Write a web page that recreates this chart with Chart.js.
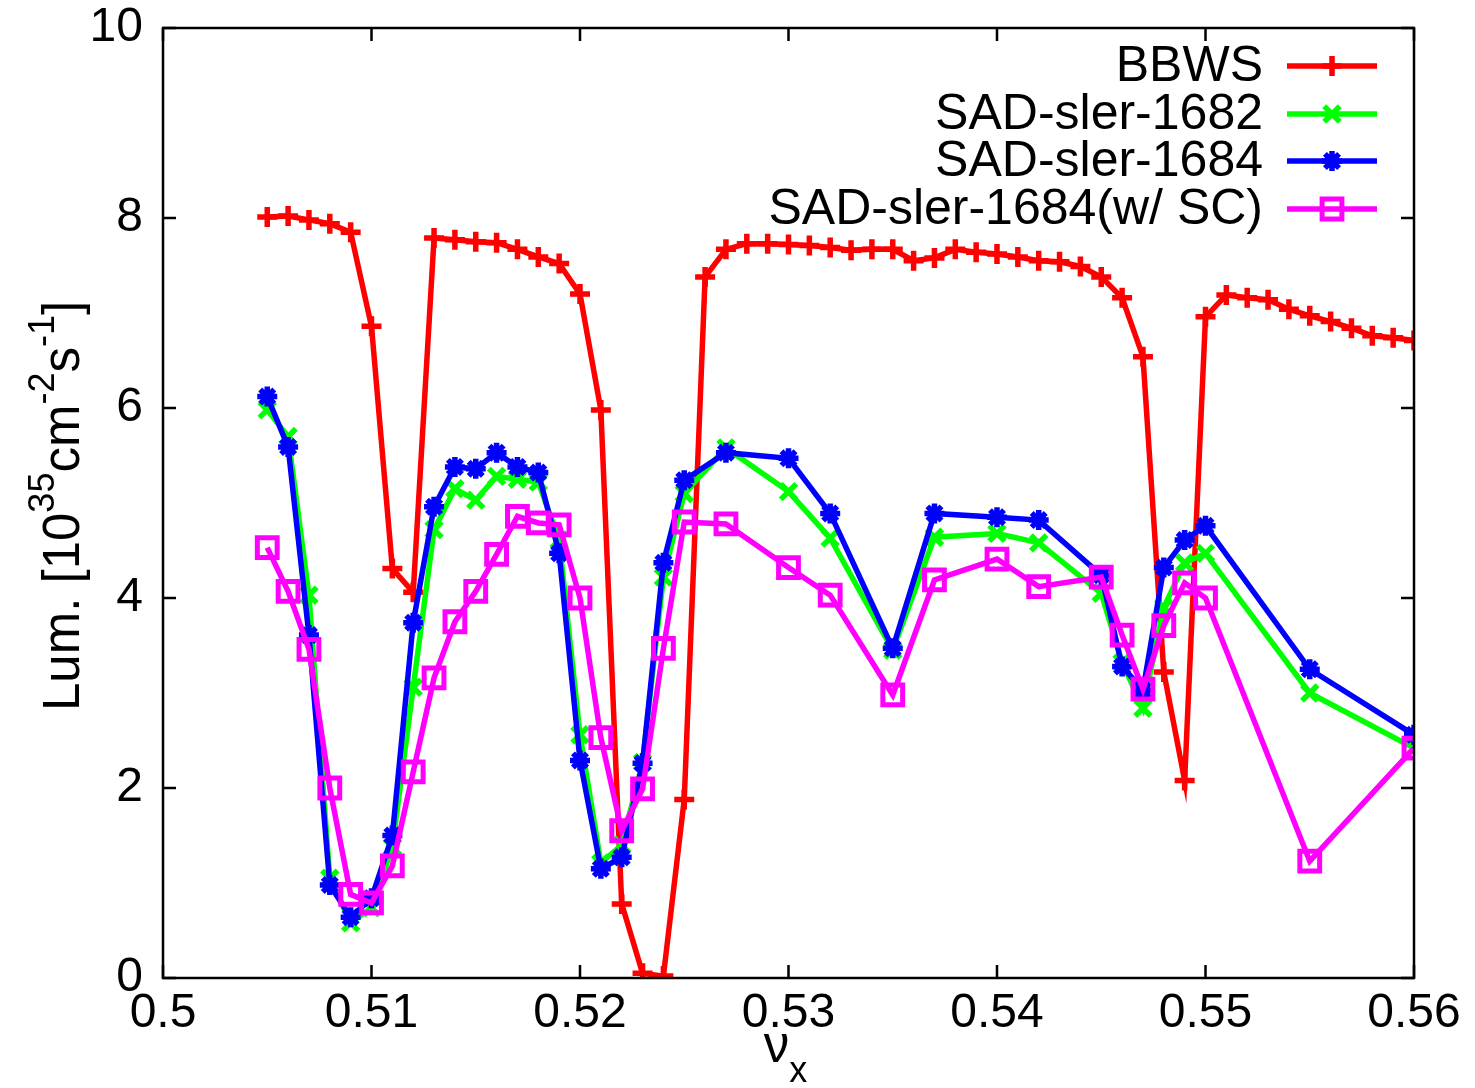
<!DOCTYPE html>
<html>
<head>
<meta charset="utf-8">
<script src="https://cdn.jsdelivr.net/npm/chart.js@4/dist/chart.umd.min.js"></script>
<style>html,body{margin:0;padding:0;background:#fff}canvas{display:block}</style>
</head>
<body>
<canvas id="c" width="1475" height="1088"></canvas>
<script>
const FONT='"Liberation Sans", Arial, Helvetica, sans-serif';
// series names + colours (gnuplot default-ish)
const names=["BBWS","SAD-sler-1682","SAD-sler-1684","SAD-sler-1684(w/ SC)"];
const colors=["#ff0000","#00ff00","#0000ff","#ff00ff"];
const marks=["cross","crossRot","star","rect"];

// BBWS: nu_x every 0.001
const bbwsX=[0.505,0.506,0.507,0.508,0.509,0.510,0.511,0.512,0.513,0.514,0.515,0.516,0.517,0.518,0.519,0.520,
0.521,0.522,0.523,0.524,0.525,0.526,0.527,0.528,0.529,0.530,0.531,0.532,0.533,0.534,0.535,0.536,0.537,0.538,0.539,0.540,
0.541,0.542,0.543,0.544,0.545,0.546,0.547,0.548,0.549,0.550,0.551,0.552,0.553,0.554,0.555,0.556,0.557,0.558,0.559,0.560];
const bbwsY=[8.01,8.02,7.98,7.94,7.85,6.86,4.31,4.06,7.79,7.77,7.75,7.74,7.67,7.59,7.52,7.20,
5.98,0.78,0.05,0.02,1.88,7.38,7.67,7.73,7.73,7.72,7.71,7.69,7.66,7.67,7.67,7.55,7.58,7.67,7.64,7.62,
7.59,7.55,7.54,7.49,7.38,7.16,6.54,3.22,2.08,6.96,7.19,7.16,7.14,7.04,6.97,6.91,6.84,6.76,6.74,6.71];

// SAD runs share the same tune points
const sadX=[0.505,0.506,0.507,0.508,0.509,0.510,0.511,0.512,0.513,0.514,0.515,0.516,0.517,0.518,0.519,0.520,
0.521,0.522,0.523,0.524,0.525,0.527,0.530,0.532,0.535,0.537,0.540,0.542,0.545,0.546,0.547,0.548,0.549,0.550,0.555,0.560];
const s1682Y=[5.98,5.70,4.03,1.05,0.58,0.74,1.38,3.06,4.72,5.15,5.03,5.28,5.25,5.22,4.61,2.56,
1.21,1.40,2.27,4.22,5.10,5.58,5.12,4.63,3.45,4.64,4.68,4.58,4.05,3.32,2.84,3.90,4.37,4.47,3.00,2.42];
const s1684Y=[6.12,5.59,3.61,0.98,0.64,0.84,1.50,3.74,4.96,5.38,5.36,5.53,5.38,5.32,4.47,2.29,
1.15,1.27,2.26,4.37,5.24,5.53,5.47,4.89,3.47,4.89,4.85,4.82,4.24,3.28,3.03,4.32,4.61,4.76,3.25,2.56];
const scY=[4.53,4.07,3.46,2.00,0.88,0.79,1.18,2.17,3.16,3.75,4.07,4.46,4.86,4.79,4.77,4.00,
2.53,1.55,1.99,3.47,4.80,4.78,4.32,4.03,2.98,4.19,4.41,4.12,4.22,3.61,3.04,3.71,4.16,4.00,1.23,2.42];

const xTicks=[0.5,0.51,0.52,0.53,0.54,0.55,0.56];
const yTicks=[0,2,4,6,8,10];

const pts=(xs,ys)=>xs.map((x,i)=>({x,y:ys[i]}));
const series=[pts(bbwsX,bbwsY),pts(sadX,s1682Y),pts(sadX,s1684Y),pts(sadX,scY)];
const radius=[10,11,10,14], bw=[5.5,5.5,5.5,5];

const datasets=series.map((d,i)=>({label:names[i],data:d,borderColor:colors[i],backgroundColor:colors[i],
  pointStyle:marks[i],pointRadius:radius[i],pointBorderWidth:bw[i],pointBorderColor:colors[i],
  pointBackgroundColor:i===3?"rgba(0,0,0,0)":colors[i],borderWidth:5.5,tension:0,order:3-i}));

// frame, inward ticks on all sides, legend, axis titles
const deco={id:"deco",afterDraw(ch){
  const c=ch.ctx,a=ch.chartArea,sx=ch.scales.x,sy=ch.scales.y,T=13;
  c.save();c.strokeStyle="#000";c.lineWidth=2.5;
  c.strokeRect(a.left,a.top,a.right-a.left,a.bottom-a.top);
  c.beginPath();
  sx.ticks.forEach(t=>{const p=sx.getPixelForValue(t.value);c.moveTo(p,a.bottom);c.lineTo(p,a.bottom-T);c.moveTo(p,a.top);c.lineTo(p,a.top+T)});
  sy.ticks.forEach(t=>{const p=sy.getPixelForValue(t.value);c.moveTo(a.left,p);c.lineTo(a.left+T,p);c.moveTo(a.right,p);c.lineTo(a.right-T,p)});
  c.stroke();
  // legend
  c.font="50px "+FONT;c.textAlign="right";c.textBaseline="middle";
  const rows=[66,114,161,209];
  names.forEach((n,i)=>{const y=rows[i];
    c.fillStyle="#000";c.fillText(n,1263,y+1);
    c.strokeStyle=colors[i];c.lineWidth=5.5;c.beginPath();c.moveTo(1287,y);c.lineTo(1377,y);c.stroke();
    c.lineWidth=bw[i];c.fillStyle=i===3?"rgba(0,0,0,0)":colors[i];
    Chart.helpers.drawPoint(c,{pointStyle:marks[i],radius:radius[i],rotation:0,borderWidth:bw[i]},1332,y);
  });
  // y title with superscripts
  c.fillStyle="#000";c.textAlign="left";c.textBaseline="alphabetic";
  const seg=[["Lum. [10",0],["35",1],["cm",0],["-2",1],["s",0],["-1",1],["]",0]];
  const big="51px "+FONT,sm="36px "+FONT;
  let w=0;seg.forEach(s=>{c.font=s[1]?sm:big;w+=c.measureText(s[0]).width});
  c.translate(79,(a.top+a.bottom)/2);c.rotate(-Math.PI/2);
  let x=-w/2-3;seg.forEach(s=>{c.font=s[1]?sm:big;c.fillText(s[0],x,s[1]?-25:0);x+=c.measureText(s[0]).width});
  c.setTransform(1,0,0,1,0,0);
  // x title nu_x
  c.font=big;const w1=c.measureText("\u03bd").width;c.font=sm;const w2=c.measureText("x").width;
  const x0=(a.left+a.right)/2-(w1+w2)/2-3;
  c.font=big;c.fillText("\u03bd",x0,1062);c.font=sm;c.fillText("x",x0+w1,1082);
  c.restore();
}};

new Chart(document.getElementById("c"),{type:"line",data:{datasets},plugins:[deco],
 options:{responsive:false,animation:false,devicePixelRatio:1,
  layout:{padding:{top:28,right:61,left:0,bottom:0}},
  plugins:{legend:{display:false},tooltip:{enabled:false}},
  scales:{
   x:{type:"linear",min:0.5,max:0.56,grid:{display:false,drawTicks:false},border:{display:false},
      afterBuildTicks:s=>{s.ticks=xTicks.map(v=>({value:v}))},
      afterFit:s=>{s.height=110;s.paddingLeft=0;s.paddingRight=0},
      ticks:{color:"#000",font:{family:FONT,size:48},padding:7,maxRotation:0,autoSkip:false,callback:v=>String(Math.round(v*100)/100)}},
   y:{type:"linear",min:0,max:10,grid:{display:false,drawTicks:false},border:{display:false},
      afterBuildTicks:s=>{s.ticks=yTicks.map(v=>({value:v}))},
      afterFit:s=>{s.width=163;s.paddingTop=0;s.paddingBottom=0},
      ticks:{color:"#000",font:{family:FONT,size:48},padding:20,autoSkip:false}}
  }}});
</script>
</body>
</html>
